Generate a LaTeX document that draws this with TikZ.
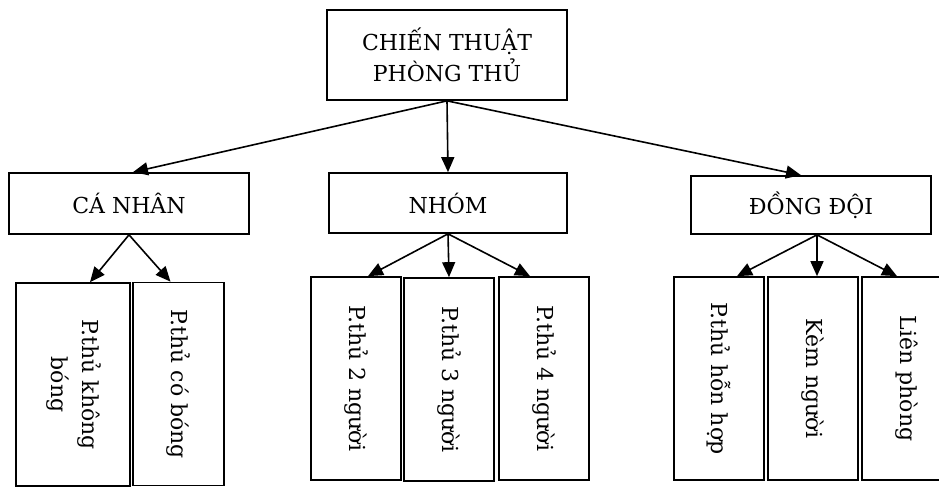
\documentclass[tikz,border=0pt]{standalone}
\usepackage{fontspec}
\setmainfont{DejaVu Serif}
\usepackage{graphicx}
\usetikzlibrary{arrows.meta}

\begin{document}
\begin{tikzpicture}[x=1pt, y=-1pt, font=\fontsize{22}{31}\selectfont,
    box/.style={draw, line width=1.7pt, align=center, inner sep=0pt},
    tall/.style={box, minimum width=90, minimum height=203},
    arr/.style={line width=1.6pt, -{Triangle[length=15pt,width=13pt]}}]
    \path[use as bounding box, clip] (0,0) rectangle (939,487);
    % upper levels
    \node[box, minimum width=240, minimum height=90] (chienthuat) at (447,55) {CHIẾN THUẬT\\PHÒNG THỦ};
    \node[box, minimum width=240, minimum height=61] (canhan) at (129,203.5) {CÁ NHÂN};
    \node[box, minimum width=238, minimum height=60] (nhom) at (448,203) {NHÓM};
    \node[box, minimum width=240, minimum height=58] (dongdoi) at (811,205) {ĐỒNG ĐỘI};
    % lower level
    \node[tall, minimum width=114] (cn1) at (73,384.5) {\rotatebox{-90}{\begin{tabular}{@{}c@{}}P.thủ không\\bóng\end{tabular}}};
    \node[tall, minimum width=91] (cn2) at (178.5,384) {\rotatebox{-90}{P.thủ có bóng}};
    \node[tall] (n1) at (356,378.5) {\rotatebox{-90}{P.thủ 2 người}};
    \node[tall] (n2) at (449,379.5) {\rotatebox{-90}{P.thủ 3 người}};
    \node[tall] (n3) at (544,378.5) {\rotatebox{-90}{P.thủ 4 người}};
    \node[tall] (d1) at (719,378.5) {\rotatebox{-90}{P.thủ hỗn hợp}};
    \node[tall] (d2) at (813,378.5) {\rotatebox{-90}{Kèm người}};
    \node[tall] (d3) at (907,378.5) {\rotatebox{-90}{Liên phòng}};
    % arrows
    \draw[arr] (chienthuat.south) -- ([xshift=4]canhan.north);
    \draw[arr] (chienthuat.south) -- (nhom.north);
    \draw[arr] (chienthuat.south) -- ([xshift=-10]dongdoi.north);
    \draw[arr] (canhan.south) -- ([xshift=17]cn1.north);
    \draw[arr] (canhan.south) -- ([xshift=-8]cn2.north);
    \draw[arr] (nhom.south) -- ([xshift=12]n1.north);
    \draw[arr] (nhom.south) -- (n2.north);
    \draw[arr] (nhom.south) -- ([xshift=-14]n3.north);
    \draw[arr] ([xshift=6]dongdoi.south) -- ([xshift=18]d1.north);
    \draw[arr] ([xshift=6]dongdoi.south) -- ([xshift=4]d2.north);
    \draw[arr] ([xshift=6]dongdoi.south) -- ([xshift=-10]d3.north);
\end{tikzpicture}
\end{document}
